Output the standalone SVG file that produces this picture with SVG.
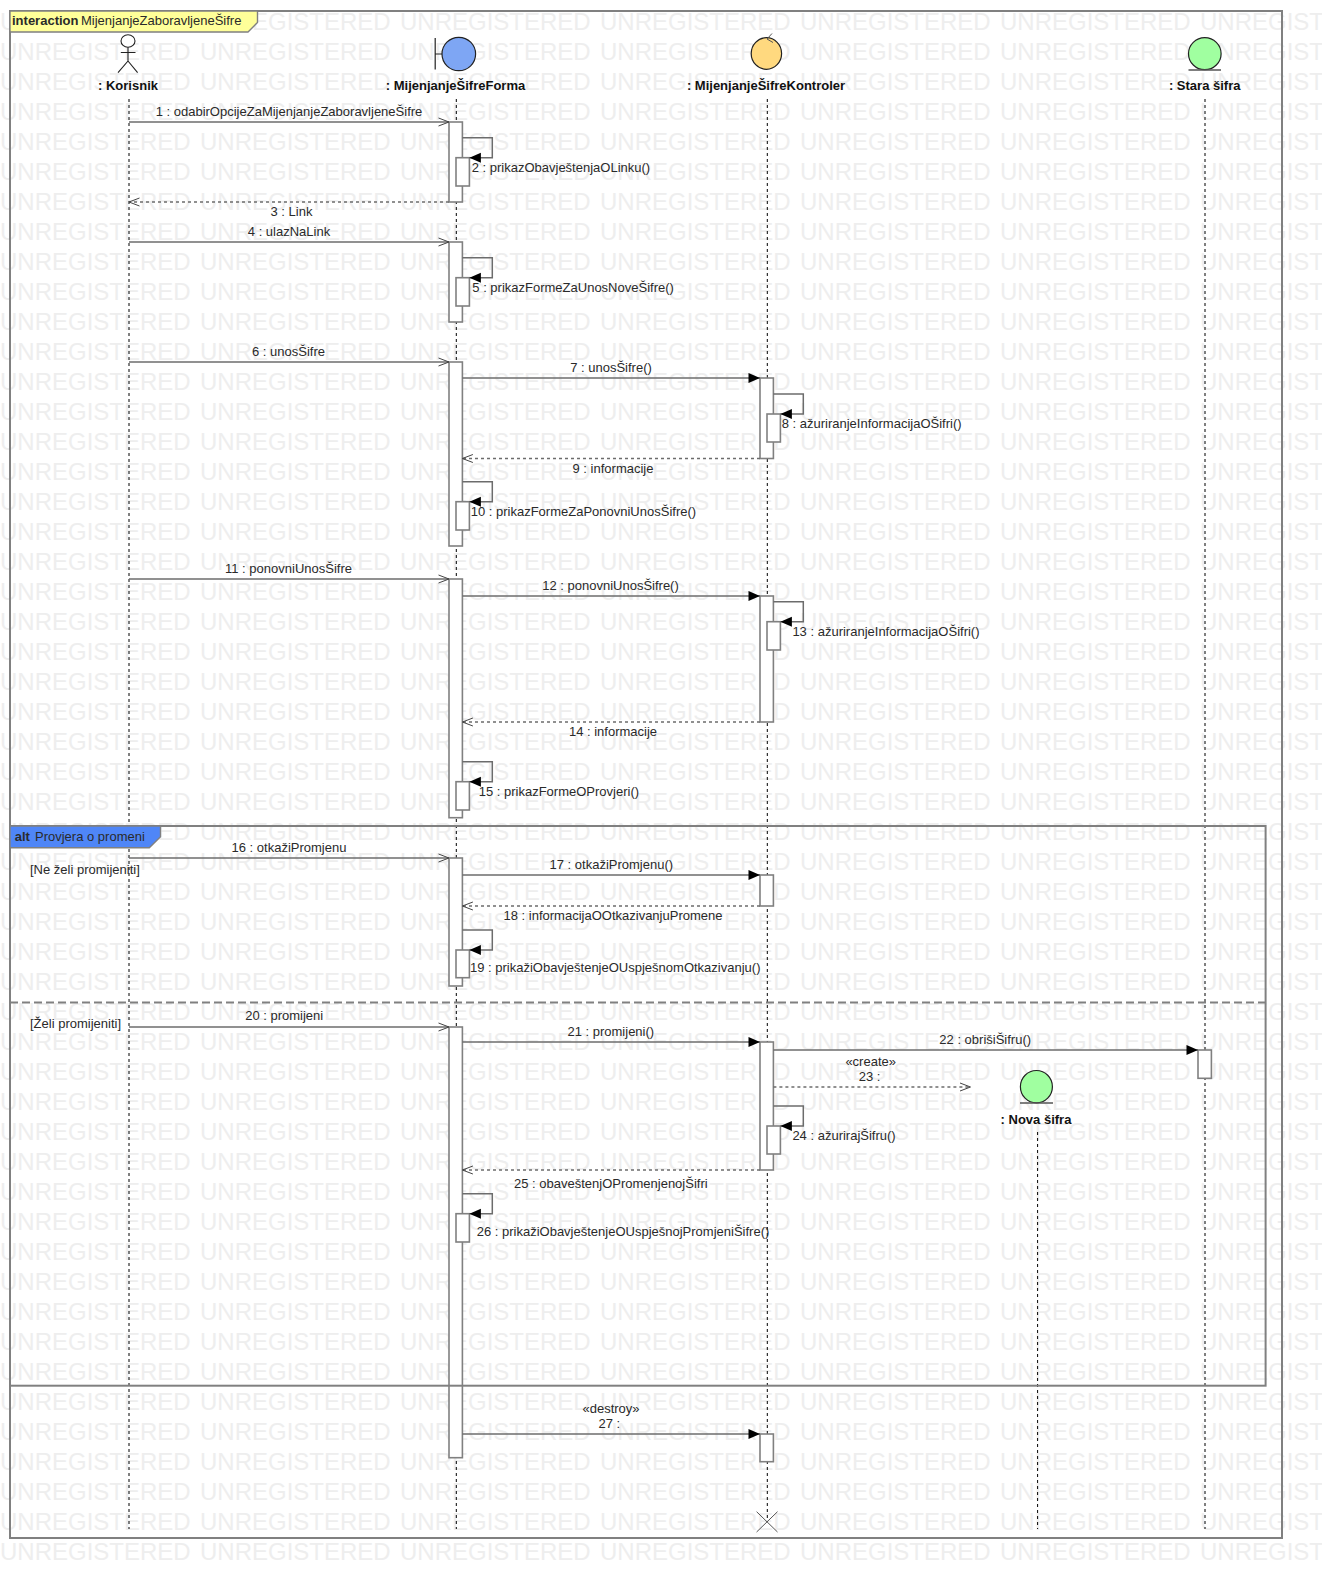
<svg xmlns="http://www.w3.org/2000/svg" width="1322" height="1578" viewBox="0 0 1322 1578">
<style>
text{font-family:"Liberation Sans",Arial,sans-serif;font-size:13px;fill:#2a2a2a}
.m{text-anchor:middle}
.h{font-weight:bold;fill:#111}
.wm{font-size:24px;fill:#eeeeee}
.ll{stroke:#000;stroke-width:1;stroke-dasharray:3 3;fill:none}
.act{fill:#fff;stroke:#808080;stroke-width:1.6}
.frame{fill:none;stroke:#808080;stroke-width:2}
.msg{fill:none;stroke:#6c6c6c;stroke-width:1.5;marker-end:url(#filled)}
.call{fill:none;stroke:#6c6c6c;stroke-width:1.5;marker-end:url(#open)}
.ret{fill:none;stroke:#6c6c6c;stroke-width:1.4;stroke-dasharray:3 3;marker-end:url(#open)}
.ic{stroke:#222;stroke-width:1.2}
</style>
<defs>
<marker id="filled" markerUnits="userSpaceOnUse" markerWidth="13" markerHeight="13" refX="12" refY="6.5" orient="auto"><path d="M0.5,1.5 L12,6.5 L0.5,11.5 Z" fill="#000"/></marker>
<marker id="open" markerUnits="userSpaceOnUse" markerWidth="13" markerHeight="12" refX="11.5" refY="6" orient="auto"><path d="M1,2 L11.5,6 L1,10" fill="none" stroke="#444" stroke-width="1"/></marker>
<g id="wmrow"><text class="wm" x="0">UNREGISTERED</text><text class="wm" x="200">UNREGISTERED</text><text class="wm" x="400">UNREGISTERED</text><text class="wm" x="600">UNREGISTERED</text><text class="wm" x="800">UNREGISTERED</text><text class="wm" x="1000">UNREGISTERED</text><text class="wm" x="1200">UNREGISTERED</text></g>
</defs>
<rect width="1322" height="1578" fill="#fff"/>
<g id="watermark">
<use href="#wmrow" y="30"/><use href="#wmrow" y="60"/><use href="#wmrow" y="90"/><use href="#wmrow" y="120"/><use href="#wmrow" y="150"/><use href="#wmrow" y="180"/><use href="#wmrow" y="210"/><use href="#wmrow" y="240"/><use href="#wmrow" y="270"/><use href="#wmrow" y="300"/><use href="#wmrow" y="330"/><use href="#wmrow" y="360"/><use href="#wmrow" y="390"/><use href="#wmrow" y="420"/><use href="#wmrow" y="450"/><use href="#wmrow" y="480"/><use href="#wmrow" y="510"/><use href="#wmrow" y="540"/><use href="#wmrow" y="570"/><use href="#wmrow" y="600"/><use href="#wmrow" y="630"/><use href="#wmrow" y="660"/><use href="#wmrow" y="690"/><use href="#wmrow" y="720"/><use href="#wmrow" y="750"/><use href="#wmrow" y="780"/><use href="#wmrow" y="810"/><use href="#wmrow" y="840"/><use href="#wmrow" y="870"/><use href="#wmrow" y="900"/><use href="#wmrow" y="930"/><use href="#wmrow" y="960"/><use href="#wmrow" y="990"/><use href="#wmrow" y="1020"/><use href="#wmrow" y="1050"/><use href="#wmrow" y="1080"/><use href="#wmrow" y="1110"/><use href="#wmrow" y="1140"/><use href="#wmrow" y="1170"/><use href="#wmrow" y="1200"/><use href="#wmrow" y="1230"/><use href="#wmrow" y="1260"/><use href="#wmrow" y="1290"/><use href="#wmrow" y="1320"/><use href="#wmrow" y="1350"/><use href="#wmrow" y="1380"/><use href="#wmrow" y="1410"/><use href="#wmrow" y="1440"/><use href="#wmrow" y="1470"/><use href="#wmrow" y="1500"/><use href="#wmrow" y="1530"/><use href="#wmrow" y="1560"/>
</g>
<g id="interaction-frame">
<rect class="frame" x="10" y="11" width="1272" height="1527"/>
<path d="M10,11 H257.5 V22.5 L248,32 H10 Z" fill="#ffff99" stroke="#808080" stroke-width="1.4"/>
<text x="12" y="25" style="font-weight:bold">interaction</text>
<text x="81" y="25">MijenjanjeZaboravljeneŠifre</text>
</g>
<g id="korisnik">
<line class="ll" x1="129" y1="99" x2="129" y2="1529"/>
<g fill="none" stroke="#222" stroke-width="1.1"><ellipse cx="128" cy="41" rx="7" ry="6.2" fill="#fff"/><path d="M128,47.3 V61 M120.8,52.5 H135.5 M118,72.7 L128,61 L137.6,72.7"/></g>
<text class="m h" x="128" y="90">: Korisnik</text>
</g>
<g id="forma">
<line class="ll" x1="456.3" y1="99" x2="456.3" y2="1529"/>
<path class="ic" d="M435.2,38 V69.5 M435.2,54 H442" fill="none"/>
<ellipse class="ic" cx="458.8" cy="54" rx="16.8" ry="16.7" fill="#7ea6f4"/>
<text class="m h" x="455.5" y="90">: MijenjanjeŠifreForma</text>
<rect class="act" x="449" y="122" width="13.4" height="80"/>
<rect class="act" x="456" y="157.7" width="13.4" height="28.3"/>
<rect class="act" x="449" y="242" width="13.4" height="80"/>
<rect class="act" x="456" y="277.7" width="13.4" height="28.3"/>
<rect class="act" x="449" y="362" width="13.4" height="184"/>
<rect class="act" x="456" y="501.7" width="13.4" height="28.3"/>
<rect class="act" x="449" y="579" width="13.4" height="238.7"/>
<rect class="act" x="456" y="781.7" width="13.4" height="28.3"/>
<rect class="act" x="449" y="858" width="13.4" height="128"/>
<rect class="act" x="456" y="950" width="13.4" height="27.7"/>
<rect class="act" x="449" y="1027" width="13.4" height="430.7"/>
<rect class="act" x="456" y="1213.7" width="13.4" height="28.3"/>
</g>
<g id="kontroler">
<line class="ll" x1="767.3" y1="99" x2="767.3" y2="1522"/>
<ellipse class="ic" cx="766.4" cy="53.5" rx="15.2" ry="15.8" fill="#ffd97f"/>
<path d="M772,33.5 L767,39 L773,42.5" fill="none" stroke="#555" stroke-width="1"/>
<text class="m h" x="766" y="90">: MijenjanjeŠifreKontroler</text>
<rect class="act" x="760" y="378" width="13.4" height="80.5"/>
<rect class="act" x="767" y="414" width="13.4" height="28"/>
<rect class="act" x="760" y="596" width="13.4" height="126"/>
<rect class="act" x="767" y="621.7" width="13.4" height="28.3"/>
<rect class="act" x="760" y="875" width="13.4" height="31"/>
<rect class="act" x="760" y="1042" width="13.4" height="128"/>
<rect class="act" x="767" y="1126" width="13.4" height="28"/>
<rect class="act" x="760" y="1434" width="13.4" height="27.7"/>
<path d="M756.6,1511.7 L777.5,1532 M777.5,1511.7 L756.6,1532" fill="none" stroke="#555" stroke-width="1"/>
</g>
<g id="stara-sifra">
<line class="ll" x1="1205" y1="99" x2="1205" y2="1529"/>
<ellipse class="ic" cx="1204.8" cy="53.7" rx="16.3" ry="16" fill="#a0ffa0"/>
<line x1="1188.5" y1="70" x2="1221" y2="70" stroke="#555" stroke-width="1.6"/>
<text class="m h" x="1204.7" y="90">: Stara šifra</text>
<rect class="act" x="1198" y="1050" width="13.4" height="28.3"/>
</g>
<g id="nova-sifra">
<line class="ll" x1="1037.6" y1="1132" x2="1037.6" y2="1529"/>
<ellipse class="ic" cx="1036.4" cy="1086.7" rx="16" ry="16.2" fill="#a0ffa0"/>
<line x1="1020" y1="1103" x2="1053" y2="1103" stroke="#555" stroke-width="1.6"/>
<text class="m h" x="1036" y="1124">: Nova šifra</text>
</g>
<g id="alt-fragment">
<rect class="frame" x="10" y="826" width="1255.6" height="559.7"/>
<line x1="10" y1="1002.5" x2="1265.6" y2="1002.5" stroke="#808080" stroke-width="2" stroke-dasharray="8 4"/>
<path d="M10,826 H160.5 V836.7 L149.3,847.7 H10 Z" fill="#4f86f7" stroke="#808080" stroke-width="1.4"/>
<text x="14.7" y="840.7" style="font-weight:bold">alt</text>
<text x="35" y="840.7">Provjera o promeni</text>
<text x="30" y="874">[Ne želi promijeniti]</text>
<text x="30" y="1028">[Želi promijeniti]</text>
</g>
<g id="connectors">
<line class="call" x1="129" y1="122" x2="449" y2="122"/>
<polyline class="msg" points="462.4,137.7 492.3,137.7 492.3,157.7 469.4,157.7"/>
<line class="ret" x1="449" y1="202" x2="129" y2="202"/>
<line class="call" x1="129" y1="242" x2="449" y2="242"/>
<polyline class="msg" points="462.4,257.7 492.3,257.7 492.3,277.7 469.4,277.7"/>
<line class="call" x1="129" y1="362" x2="449" y2="362"/>
<line class="msg" x1="462.4" y1="378" x2="760" y2="378"/>
<polyline class="msg" points="773.4,394 803.3,394 803.3,414 780.4,414"/>
<line class="ret" x1="760" y1="458.5" x2="462.4" y2="458.5"/>
<polyline class="msg" points="462.4,481.7 492.3,481.7 492.3,501.7 469.4,501.7"/>
<line class="call" x1="129" y1="579" x2="449" y2="579"/>
<line class="msg" x1="462.4" y1="596" x2="760" y2="596"/>
<polyline class="msg" points="773.4,601.7 803.3,601.7 803.3,621.7 780.4,621.7"/>
<line class="ret" x1="760" y1="722" x2="462.4" y2="722"/>
<polyline class="msg" points="462.4,761.7 492.3,761.7 492.3,781.7 469.4,781.7"/>
<line class="call" x1="129" y1="858" x2="449" y2="858"/>
<line class="msg" x1="462.4" y1="875" x2="760" y2="875"/>
<line class="ret" x1="760" y1="906" x2="462.4" y2="906"/>
<polyline class="msg" points="462.4,930 492.3,930 492.3,950 469.4,950"/>
<line class="call" x1="129" y1="1027" x2="449" y2="1027"/>
<line class="msg" x1="462.4" y1="1042" x2="760" y2="1042"/>
<line class="msg" x1="773.4" y1="1050" x2="1198" y2="1050"/>
<line class="ret" x1="773.4" y1="1087" x2="970.5" y2="1087"/>
<polyline class="msg" points="773.4,1106 803.3,1106 803.3,1126 780.4,1126"/>
<line class="ret" x1="760" y1="1170" x2="462.4" y2="1170"/>
<polyline class="msg" points="462.4,1193.7 492.3,1193.7 492.3,1213.7 469.4,1213.7"/>
<line class="msg" x1="462.4" y1="1434" x2="760" y2="1434"/>
<text class="m" x="289" y="116">1 : odabirOpcijeZaMijenjanjeZaboravljeneŠifre</text>
<text x="471.7" y="171.7">2 : prikazObavještenjaOLinku()</text>
<text class="m" x="291.5" y="216">3 : Link</text>
<text class="m" x="289" y="235.7">4 : ulazNaLink</text>
<text x="472.3" y="291.7">5 : prikazFormeZaUnosNoveŠifre()</text>
<text class="m" x="288.5" y="356">6 : unosŠifre</text>
<text class="m" x="611" y="371.7">7 : unosŠifre()</text>
<text x="781.7" y="428">8 : ažuriranjeInformacijaOŠifri()</text>
<text class="m" x="613" y="472.7">9 : informacije</text>
<text x="470.7" y="515.7">10 : prikazFormeZaPonovniUnosŠifre()</text>
<text class="m" x="288.5" y="573">11 : ponovniUnosŠifre</text>
<text class="m" x="610.5" y="590">12 : ponovniUnosŠifre()</text>
<text x="792.4" y="636">13 : ažuriranjeInformacijaOŠifri()</text>
<text class="m" x="613" y="735.7">14 : informacije</text>
<text x="478.7" y="795.7">15 : prikazFormeOProvjeri()</text>
<text class="m" x="289" y="851.7">16 : otkažiPromjenu</text>
<text class="m" x="611.3" y="869">17 : otkažiPromjenu()</text>
<text class="m" x="613" y="920">18 : informacijaOOtkazivanjuPromene</text>
<text x="470" y="971.7">19 : prikažiObavještenjeOUspješnomOtkazivanju()</text>
<text class="m" x="284.2" y="1020">20 : promijeni</text>
<text class="m" x="610.8" y="1035.7">21 : promijeni()</text>
<text class="m" x="985.2" y="1044">22 : obrišiŠifru()</text>
<text class="m" x="870.7" y="1065.7">«create»</text>
<text class="m" x="869.5" y="1081">23 : </text>
<text x="792.4" y="1140">24 : ažurirajŠifru()</text>
<text class="m" x="610.8" y="1188">25 : obaveštenjOPromenjenojŠifri</text>
<text x="476.7" y="1236">26 : prikažiObavještenjeOUspješnojPromjeniŠifre()</text>
<text class="m" x="611" y="1412.7">«destroy»</text>
<text class="m" x="609.3" y="1427.7">27 : </text>
</g>
</svg>
